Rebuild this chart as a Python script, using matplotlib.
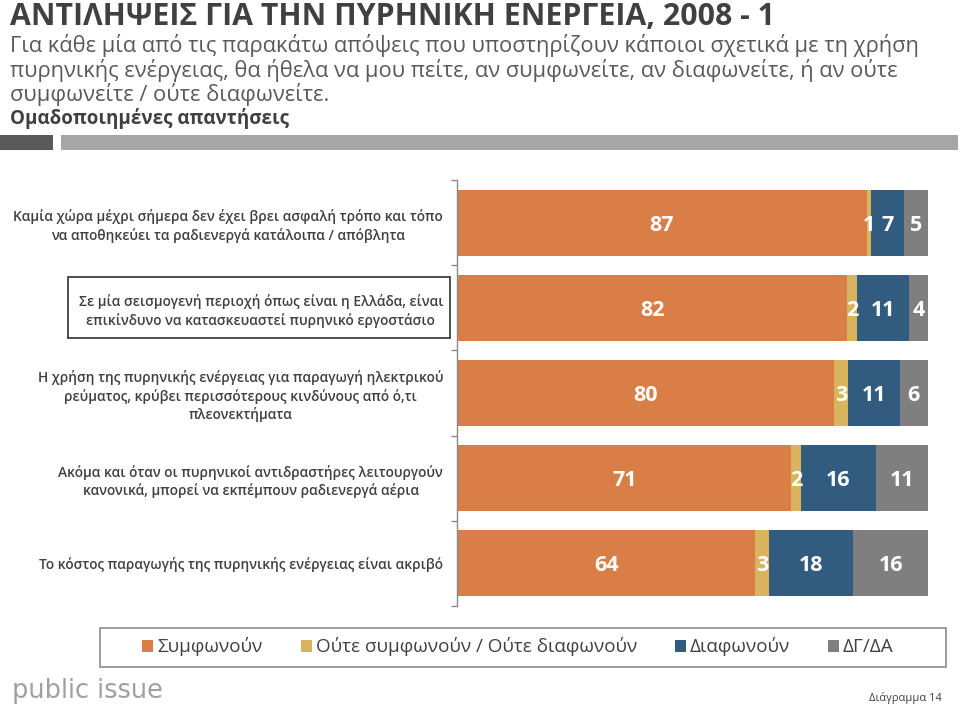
import matplotlib
matplotlib.use('Agg')
import matplotlib.pyplot as plt
from matplotlib.patches import Rectangle
import numpy as np

# ---------------- data ----------------
categories = [
    "Καμία χώρα μέχρι σήμερα δεν έχει βρει ασφαλή τρόπο και τόπο\nνα αποθηκεύει τα ραδιενεργά κατάλοιπα / απόβλητα",
    "Σε μία σεισμογενή περιοχή όπως είναι η Ελλάδα, είναι\nεπικίνδυνο να κατασκευαστεί πυρηνικό εργοστάσιο",
    "Η χρήση της πυρηνικής ενέργειας για παραγωγή ηλεκτρικού\nρεύματος, κρύβει περισσότερους κινδύνους από ό,τι\nπλεονεκτήματα",
    "Ακόμα και όταν οι πυρηνικοί αντιδραστήρες λειτουργούν\nκανονικά, μπορεί να εκπέμπουν ραδιενεργά αέρια",
    "Το κόστος παραγωγής της πυρηνικής ενέργειας είναι ακριβό",
]
series_names = ["Συμφωνούν", "Ούτε συμφωνούν / Ούτε διαφωνούν", "Διαφωνούν", "ΔΓ/ΔΑ"]
agree = [87, 82, 80, 71, 64]
neither = [1, 2, 3, 2, 3]
disagree = [7, 11, 11, 16, 18]
dkna = [5, 4, 6, 11, 16]
colors = ["#D97E47", "#DAB35E", "#325B80", "#7F7F7F"]

title = "ΑΝΤΙΛΗΨΕΙΣ ΓΙΑ ΤΗΝ ΠΥΡΗΝΙΚΗ ΕΝΕΡΓΕΙΑ, 2008 - 1"
subtitle = [
    "Για κάθε μία από τις παρακάτω απόψεις που υποστηρίζουν κάποιοι σχετικά με τη χρήση",
    "πυρηνικής ενέργειας, θα ήθελα να μου πείτε, αν συμφωνείτε, αν διαφωνείτε, ή αν ούτε",
    "συμφωνείτε / ούτε διαφωνείτε.",
]
subhead = "Ομαδοποιημένες απαντήσεις"
logo = "public issue"
chart_no = "Διάγραμμα 14"

# ---------------- figure ----------------
W, H = 960, 705
FAM = ['Open Sans', 'DejaVu Sans']
plt.rcParams['font.family'] = FAM
fig = plt.figure(figsize=(W / 100, H / 100), dpi=100)
renderer = fig.canvas.get_renderer()
PX_PER_PT = 100 / 72


def fx(px):
    return px / W


def fy(py):
    return 1 - py / H


def fit_size(s, target, weight='normal', family=FAM, base=20):
    t = fig.text(0, 0, s, fontsize=base, fontweight=weight, family=family)
    w = t.get_window_extent(renderer).width
    t.remove()
    return base * target / w


# title
fs_t = fit_size(title, 765, 'bold')
fig.text(fx(10), fy(25), title, fontsize=fs_t, fontweight='bold', color='#404040', va='baseline')
fs_s = fit_size(subtitle[0], 907)
for i, line in enumerate(subtitle):
    fig.text(fx(10), fy(52 + 24.5 * i), line, fontsize=fs_s, color='#595959', va='baseline')
fs_h = fit_size(subhead, 278, 'bold')
fig.text(fx(10), fy(124), subhead, fontsize=fs_h, fontweight='bold', color='#404040', va='baseline')

# strips
fig.patches.append(Rectangle((fx(0), fy(150)), 53 / W, 15 / H, transform=fig.transFigure,
                             facecolor='#595959', edgecolor='none'))
fig.patches.append(Rectangle((fx(61), fy(150)), (958 - 61) / W, 15 / H, transform=fig.transFigure,
                             facecolor='#A6A6A6', edgecolor='none'))

# axes
ax = fig.add_axes([fx(457), fy(606), 471 / W, 426 / H])
y = np.arange(len(categories))
data = np.array([agree, neither, disagree, dkna], dtype=float)
totals = data.sum(axis=0)
shares = data / totals * 100
lefts = np.zeros(len(categories))
fs_v = 15.5
handles = []
for k in range(4):
    bc = ax.barh(y, shares[k], left=lefts, height=0.775, color=colors[k], label=series_names[k])
    handles.append(bc)
    for i in range(len(categories)):
        ax.text(lefts[i] + shares[k][i] / 2, y[i], str(int(data[k][i])), ha='center', va='center_baseline',
                color='white', fontsize=fs_v, fontweight='bold')
    lefts = lefts + shares[k]

ax.set_xlim(0, 100)
ax.set_ylim(len(categories) - 0.5, -0.5)
ax.xaxis.set_visible(False)
for s in ['top', 'right', 'bottom']:
    ax.spines[s].set_visible(False)
ax.spines['left'].set_color('#898989')
ax.spines['left'].set_linewidth(1.0)
ax.set_facecolor('none')

fs_l = fit_size("Καμία χώρα μέχρι σήμερα δεν έχει βρει ασφαλή τρόπο και τόπο", 430, 'semibold')
ax.set_yticks(y)
ax.set_yticklabels(categories, multialignment='center', fontsize=fs_l, color='#404040',
                   fontweight='semibold', linespacing=1.3)
ax.tick_params(axis='y', which='major', length=0, pad=10)
ax.set_yticks(np.arange(-0.5, len(categories), 1), minor=True)
ax.tick_params(axis='y', which='minor', length=4.5, color='#898989', width=1.0)

# box around second label
fig.patches.append(Rectangle((fx(68), fy(338)), (450 - 68) / W, (338 - 277) / H,
                             transform=fig.transFigure, facecolor='none', edgecolor='#404040', lw=1.3))

# legend (frame drawn separately)
fs_leg = fit_size("Συμφωνούν", 105)
em = fs_leg * PX_PER_PT
leg = fig.legend(handles=handles, labels=series_names, loc='center',
                 bbox_to_anchor=(fx(518), fy(647)), ncol=4, frameon=False, fontsize=fs_leg,
                 handlelength=11 / em, handleheight=11 / em, handletextpad=4 / em,
                 columnspacing=38 / em, borderaxespad=0, borderpad=0, labelcolor='#404040')
fig.patches.append(Rectangle((fx(100), fy(667)), 846 / W, 39 / H, transform=fig.transFigure,
                             facecolor='none', edgecolor='#8C8C8C', lw=1.2))

# footer
fs_logo = fit_size(logo, 151, family=['DejaVu Sans'])
fig.text(fx(12), fy(698), logo, fontsize=fs_logo, color='#A0A0A0', family=['DejaVu Sans'], va='baseline')
fs_c = fit_size(chart_no, 72)
fig.text(fx(942), fy(701), chart_no, fontsize=fs_c, color='#404040', ha='right', va='baseline')

fig.savefig('out.png', dpi=100)
